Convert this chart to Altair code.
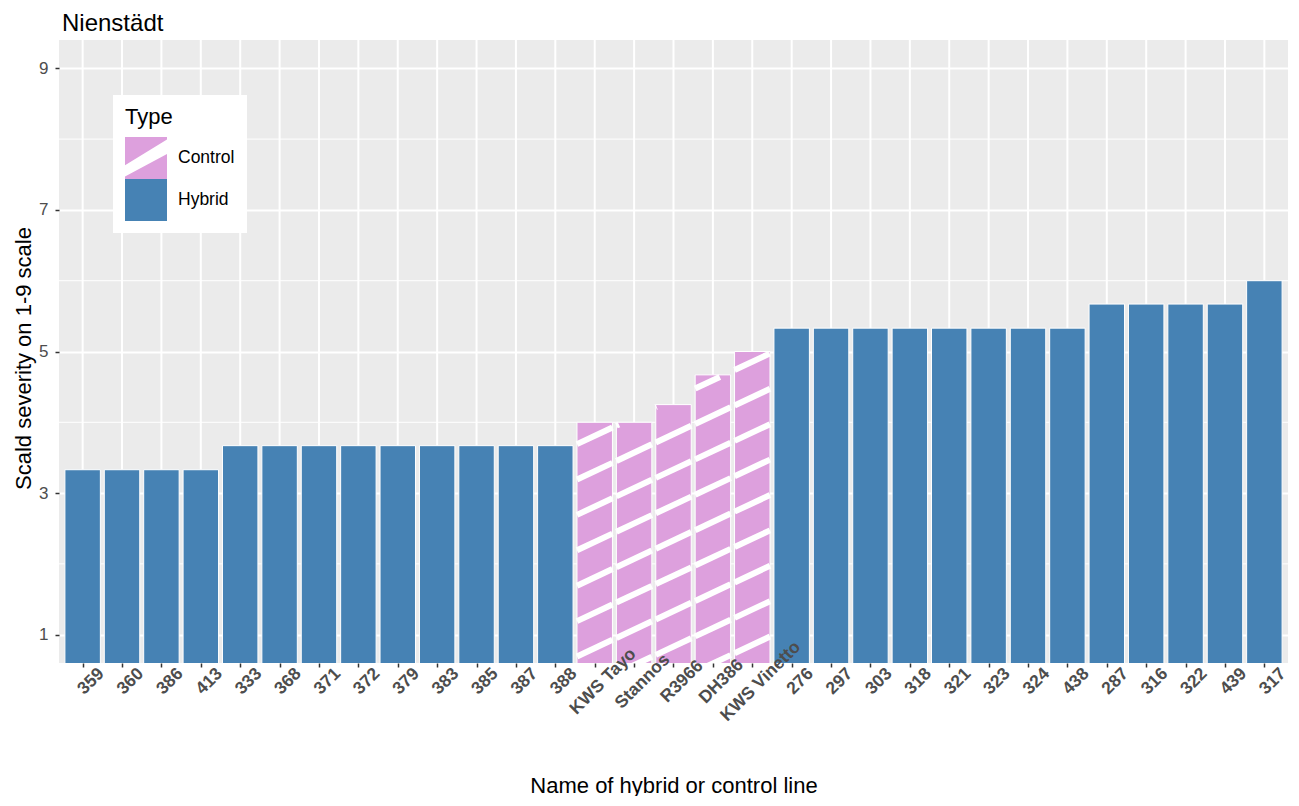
import altair as alt
import pandas as pd

# ---- data ----
names = ["359", "360", "386", "413", "333", "368", "371", "372", "379", "383",
         "385", "387", "388", "KWS Tayo", "Stannos", "R3966", "DH386", "KWS Vinetto",
         "276", "297", "303", "318", "321", "323", "324", "438",
         "287", "316", "322", "439", "317"]
severity = [3.33, 3.33, 3.33, 3.33, 3.67, 3.67, 3.67, 3.67, 3.67, 3.67,
            3.67, 3.67, 3.67, 4.0, 4.0, 4.25, 4.67, 5.0,
            5.33, 5.33, 5.33, 5.33, 5.33, 5.33, 5.33, 5.33,
            5.67, 5.67, 5.67, 5.67, 6.0]
types = ["Hybrid"] * 13 + ["Control"] * 5 + ["Hybrid"] * 13

y_major = [1, 3, 5, 7, 9]
y_minor = [2, 4, 6, 8]

FONT = "Liberation Sans"
PINK = "#DDA0DD"
BLUE = "#4682B4"
HALF = 0.45          # half bar width (index units)
Y_LO, Y_HI = 0.6, 9.4
X_LO, X_HI = -0.6, len(names) - 1 + 0.6

idx = list(range(len(names)))
bars = pd.DataFrame({"idx": idx, "name": names, "value": severity, "type": types})
bars["left"] = bars["idx"] - HALF
bars["right"] = bars["idx"] + HALF

# ---- stripe pattern segments for the control bars (decoration) ----
SLOPE, SPACING, PHASE = 0.2615, 0.5, 0.41
segs = []
for i, v, t in zip(idx, severity, types):
    if t != "Control":
        continue
    top = v - 0.03
    for k in range(-20, 40):
        c = PHASE + k * SPACING
        xl, xr = i - HALF, i + HALF
        yl, yr = c + SLOPE * xl, c + SLOPE * xr
        if yl >= top or yr < Y_LO:
            continue
        if yr > top:
            xr = (top - c) / SLOPE
            yr = top
        segs.append({"left": xl, "right": xr, "value": yl, "value2": yr})
stripes = pd.DataFrame(segs)

xscale = alt.Scale(domain=[X_LO, X_HI], nice=False, zero=False)
yscale = alt.Scale(domain=[Y_LO, Y_HI], nice=False, zero=False)

label_expr = "[" + ",".join("'" + n + "'" for n in names) + "][datum.value]"

x_axis = alt.Axis(
    values=idx, labelExpr=label_expr, title="Name of hybrid or control line",
    domain=False, grid=False, zindex=1,
    ticks=True, tickSize=4, tickColor="#333333", tickWidth=1.5,
    labelAngle=315, labelAlign="center", labelBaseline="middle",
    labelFont=FONT, labelFontSize=17.5, labelFontWeight="bold", labelColor="#4D4D4D",
    labelPadding=14, labelOffset=8, labelOverlap=False, labelFlush=False,
    labelBound=False, labelLimit=300,
    titleFont=FONT, titleFontSize=22, titleFontWeight="normal", titleColor="black",
    titleY=129, titleBaseline="alphabetic",
)
y_axis = alt.Axis(
    values=y_major, title="Scald severity on 1-9 scale",
    domain=False, grid=True, gridColor="white", gridWidth=2,
    tickSize=4, tickColor="#333333", tickWidth=1.5,
    labelFont=FONT, labelFontSize=17, labelColor="#4D4D4D", labelPadding=7,
    titleFont=FONT, titleFontSize=22, titleFontWeight="normal", titleColor="black",
    titleX=-29, titleY=318, titleBaseline="alphabetic", titleAngle=270,
)

CONTROL_PATH = "M-1,-1L1,-1L1,-0.88L-1,0.34Z M-1,0.88L1,-0.19L1,1L-1,1Z"
fill_scale = alt.Scale(domain=["Control", "Hybrid"], range=[PINK, BLUE])
shape_scale = alt.Scale(domain=["Control", "Hybrid"], range=[CONTROL_PATH, "square"])

legend = alt.Legend(
    title="Type", orient="none", legendX=54, legendY=55,
    fillColor="white", padding=12, symbolSize=1764, symbolStrokeWidth=0,
    symbolOpacity=1, rowPadding=0, labelOffset=11, titlePadding=8,
    titleFont=FONT, titleFontSize=22, titleFontWeight="normal", titleColor="black",
    labelFont=FONT, labelFontSize=17.5, labelColor="black",
)

minor = alt.Chart(pd.DataFrame({"value": y_minor})).mark_rule(color="white", strokeWidth=1).encode(
    y=alt.Y("value:Q", scale=yscale, axis=y_axis)
)

vgrid = alt.Chart(bars).mark_rule(color="white", strokeWidth=2).encode(
    x=alt.X("idx:Q", scale=xscale, axis=x_axis)
)

bar_layer = alt.Chart(bars).mark_bar(stroke="white", strokeWidth=1, clip=True).encode(
    x=alt.X("left:Q", scale=xscale, axis=x_axis),
    x2="right:Q",
    y=alt.Y("value:Q", scale=yscale, axis=y_axis),
    y2=alt.datum(0),
    fill=alt.Fill("type:N", scale=fill_scale, legend=legend),
)

stripe_layer = alt.Chart(stripes).mark_rule(color="white", strokeWidth=6, clip=True).encode(
    x=alt.X("left:Q", scale=xscale, axis=x_axis),
    x2="right:Q",
    y=alt.Y("value:Q", scale=yscale, axis=y_axis),
    y2="value2:Q",
)

legend_layer = alt.Chart(bars).mark_point(filled=True, size=1764, clip=True, strokeWidth=0, opacity=1).encode(
    x=alt.X("left:Q", scale=xscale, axis=x_axis),
    y=alt.Y("value:Q", scale=yscale, axis=y_axis),
    fill=alt.Fill("type:N", scale=fill_scale, legend=legend),
    shape=alt.Shape("type:N", scale=shape_scale, legend=legend),
).transform_calculate(value="-5")

chart = alt.layer(minor, vgrid, bar_layer, stripe_layer, legend_layer).properties(
    width=1229, height=623,
    autosize=alt.AutoSizeParams(type="none"),
    padding={"left": 51, "top": 32, "right": 3, "bottom": 133},
    title=alt.TitleParams(
        "Nienstädt", anchor="start", frame="group",
        offset=3, font=FONT, fontSize=24, fontWeight="normal", color="black", dx=3,
    ),
).configure_view(fill="#EBEBEB", stroke=None)

chart.save("out.html", embed_options={"renderer": "svg", "actions": False})
